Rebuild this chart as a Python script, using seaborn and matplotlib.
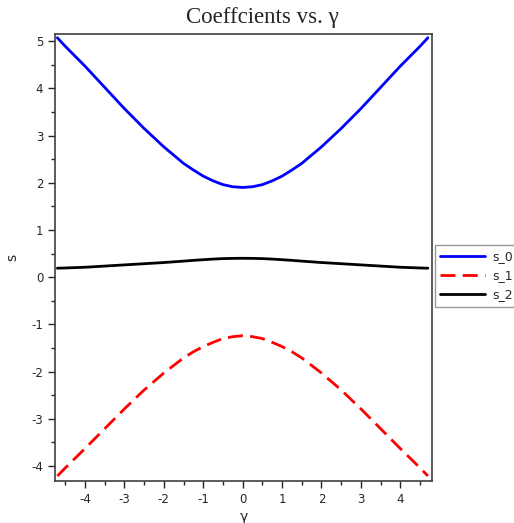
import numpy as np
import pandas as pd
import matplotlib
matplotlib.use("Agg")
import matplotlib.pyplot as plt
from matplotlib.ticker import MultipleLocator
import seaborn as sns

# values
gamma = [-4.7, -4.5, -4.0, -3.5, -3.0, -2.5, -2.0, -1.5, -1.25, -1.0, -0.75, -0.5, -0.25, 0.0,
         0.25, 0.5, 0.75, 1.0, 1.25, 1.5, 2.0, 2.5, 3.0, 3.5, 4.0, 4.5, 4.7]
s_0 = [5.07, 4.89, 4.47, 4.02, 3.57, 3.15, 2.76, 2.41, 2.27, 2.14, 2.04, 1.96, 1.915, 1.90,
       1.915, 1.96, 2.04, 2.14, 2.27, 2.41, 2.76, 3.15, 3.57, 4.02, 4.47, 4.89, 5.07]
s_1 = [-4.21, -4.04, -3.63, -3.21, -2.79, -2.39, -2.03, -1.71, -1.58, -1.47, -1.38, -1.30, -1.26, -1.24,
       -1.26, -1.30, -1.38, -1.47, -1.58, -1.71, -2.03, -2.39, -2.79, -3.21, -3.63, -4.04, -4.21]
s_2 = [0.19, 0.195, 0.21, 0.235, 0.26, 0.285, 0.31, 0.34, 0.356, 0.37, 0.383, 0.393, 0.398, 0.40,
       0.398, 0.393, 0.383, 0.37, 0.356, 0.34, 0.31, 0.285, 0.26, 0.235, 0.21, 0.195, 0.19]

series = {"s_0": s_0, "s_1": s_1, "s_2": s_2}
colors = {"s_0": "#0000ff", "s_1": "#ff0000", "s_2": "#000000"}
styles = {"s_0": "-", "s_1": (0, (5.4, 2.6)), "s_2": "-"}

sns.set_style("ticks")
plt.rcParams["font.family"] = ["DejaVu Sans"]
plt.rcParams["axes.unicode_minus"] = False

fig = plt.figure(figsize=(5.14, 5.23), dpi=100)
ax = fig.add_axes([0.107, 0.080, 0.734, 0.855])

for name, vals in series.items():
    df = pd.DataFrame({"gamma": gamma, "s": vals})
    sns.lineplot(data=df, x="gamma", y="s", ax=ax, color=colors[name],
                 linestyle=styles[name], linewidth=2.0, label=name)

ax.set_xlim(-4.76, 4.81)
ax.set_ylim(-4.32, 5.15)
ax.xaxis.set_major_locator(MultipleLocator(1))
ax.xaxis.set_minor_locator(MultipleLocator(0.5))
ax.yaxis.set_major_locator(MultipleLocator(1))
ax.yaxis.set_minor_locator(MultipleLocator(0.5))
ax.tick_params(which="major", direction="out", length=5, width=1, labelsize=8.5)
ax.tick_params(which="minor", direction="out", length=3, width=1)
for sp in ax.spines.values():
    sp.set_color("#404040")
    sp.set_linewidth(1.2)

fig.text(262 / 514, 1 - 18 / 523, "Coeffcients vs. γ", family="Liberation Serif",
         fontsize=16.5, ha="center", va="center")
ax.set_xlabel("γ", fontsize=10, labelpad=3)
ax.set_ylabel("s", fontsize=10)
ax.yaxis.set_label_coords(-0.095, 0.5)

leg = ax.legend(loc="upper left", bbox_to_anchor=(435 / 514, 1 - 245 / 523),
                bbox_transform=fig.transFigure, fontsize=9, handlelength=3.6,
                handletextpad=0.6, frameon=True, fancybox=False, borderaxespad=0,
                labelspacing=0.5)
leg.get_frame().set_edgecolor("#808080")
leg.get_frame().set_linewidth(1.0)

fig.savefig("out.png", dpi=100)
